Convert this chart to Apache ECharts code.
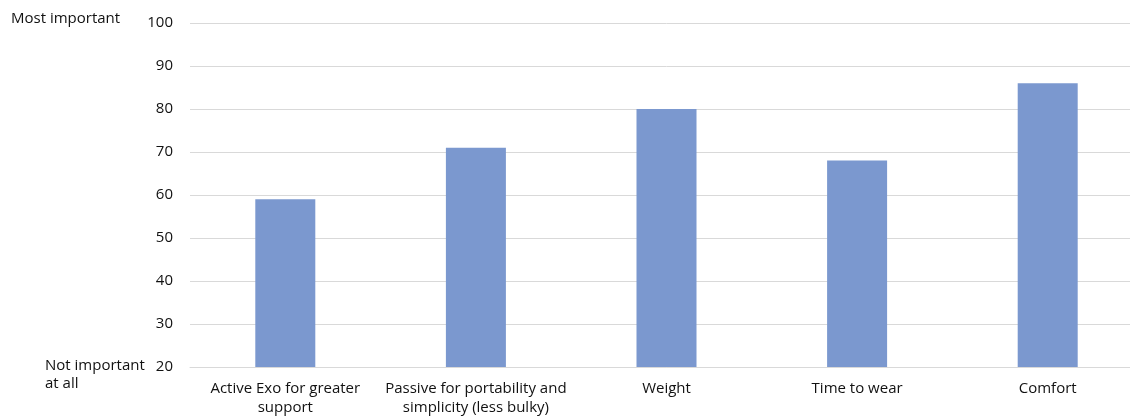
<!DOCTYPE html>
<html>
<head>
<meta charset="utf-8">
<script src="https://cdn.jsdelivr.net/npm/echarts@6/dist/echarts.min.js"></script>
<style>
html,body{margin:0;padding:0;background:#fff;overflow:hidden;width:1130px;height:417px;}
#c{width:1143px;height:417px;}
</style>
</head>
<body>
<div id="c"></div>
<script>
const categories = [
  "Active Exo for greater\nsupport",
  "Passive for portability and\nsimplicity (less bulky)",
  "Weight",
  "Time to wear",
  "Comfort"
];
const values = [59, 71, 80, 68, 86];
const yTicks = [20, 30, 40, 50, 60, 70, 80, 90, 100];

const FONT = "Open Sans";
const TXT = '#111';
const chart = echarts.init(document.getElementById('c'), null, {renderer: 'canvas'});
chart.setOption({
  animation: false,
  backgroundColor: '#fff',
  textStyle: {fontFamily: FONT},
  grid: {left: 190, top: 23, right: 0, height: 344, containLabel: false},
  xAxis: {
    type: 'category',
    data: categories,
    axisLine: {show: true, lineStyle: {color: '#d9d9d9', width: 1}},
    axisTick: {show: false},
    axisLabel: {color: TXT, fontSize: 15, fontFamily: FONT, margin: 12, lineHeight: 19, interval: 0}
  },
  yAxis: {
    type: 'value',
    min: yTicks[0],
    max: yTicks[yTicks.length - 1],
    interval: 10,
    axisLine: {show: false},
    axisTick: {show: false},
    splitLine: {show: true, lineStyle: {color: '#d9d9d9', width: 1}},
    axisLabel: {color: TXT, fontSize: 15, fontFamily: FONT, margin: 17}
  },
  graphic: [
    {type: 'text', left: 11, top: 11, style: {text: 'Most important', fontSize: 15, fontFamily: FONT, fill: TXT}},
    {type: 'text', left: 45, top: 357, style: {text: 'Not important\nat all', fontSize: 15, fontFamily: FONT, fill: TXT, lineHeight: 18}}
  ],
  series: [{
    type: 'bar',
    data: values,
    barWidth: 60,
    itemStyle: {color: '#7b98cf'}
  }]
});
</script>
</body>
</html>
